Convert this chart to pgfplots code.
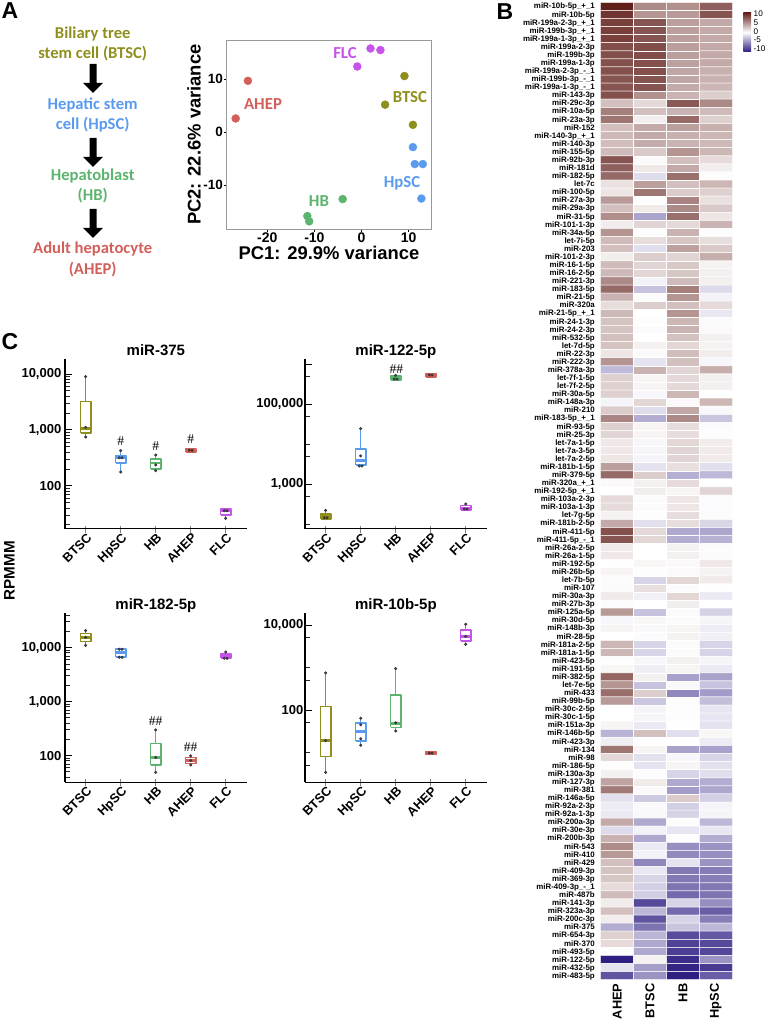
\documentclass[border=0pt]{standalone}
\usepackage{fontspec}
\setmainfont{Liberation Sans}
\newfontfamily\calb[BoldFont={Carlito Bold}]{Carlito}
\newfontfamily\tms{Liberation Serif}
\usepackage{pgfplots}
\pgfplotsset{compat=1.18}
\definecolor{cBT}{HTML}{8F8F1E}
\definecolor{cHp}{HTML}{5A9BEE}
\definecolor{cHB}{HTML}{5CB46E}
\definecolor{cAH}{HTML}{D2605A}
\definecolor{cFL}{HTML}{C654E8}
\newcommand{\fsz}[1]{\fontsize{#1}{#1}\selectfont}
% position, colour, low whisker, Q1, median, Q3, high whisker, dots
\newcommand{\mirbox}[8]{%
  \pgfmathsetmacro{\xa}{#1-0.145}\pgfmathsetmacro{\xb}{#1+0.145}%
  \addplot[solid,#2,line width=1.5pt,forget plot] coordinates {(#1,#3)(#1,#7)};
  \addplot[solid,draw=#2,fill=white,line width=1.7pt,line join=round,forget plot] coordinates {(\xa,#4)(\xb,#4)(\xb,#6)(\xa,#6)(\xa,#4)};
  \addplot[solid,#2,line width=2.8pt,forget plot] coordinates {(\xa,#5)(\xb,#5)};
  \addplot[only marks,mark=*,mark size=1.2pt,mark options={draw=black!80,fill=#2!60!black,line width=0.6pt},forget plot] coordinates {#8};
}
\pgfplotsset{
  boxax/.style={
    scale only axis,width=181.7pt,height=169.4pt,
    xmin=-0.59,xmax=4.6,
    axis lines=left,axis line style={-,line width=1.5pt},
    xtick={0,1,2,3,4},xticklabels={BTSC,HpSC,HB,AHEP,FLC},
    xtick align=outside,ytick align=inside,
    x tick style={black!50,line width=0.8pt,yshift=3pt},
    y tick style={black,line width=0.8pt},
    minor y tick style={black!85,line width=0.7pt},
    major tick length=7pt,minor tick length=5pt,
    xticklabel style={rotate=45,anchor=north east,font=\bfseries\fsz{12.8},inner sep=1pt,xshift=3.8pt,yshift=3.2pt},
    yticklabel style={font=\bfseries\fsz{13},inner sep=1pt,xshift=-2.5pt},
    title style={font=\bfseries\fsz{15},at={(axis description cs:0.5,0.988)},anchor=base},
    clip=false,
  },
}
\begin{document}
\begin{tikzpicture}[x=1pt,y=1pt]
\useasboundingbox (0,0) rectangle (765,1021);
% panel letters
\node[font=\bfseries\fsz{23},anchor=center] at (10,1010.5) {A};
\node[font=\bfseries\fsz{23},anchor=center] at (505,1009.5) {B};
\node[font=\bfseries\fsz{23},anchor=center] at (10,679) {C};
% lineage
\begin{scope}[every node/.style={font=\calb\bfseries\fsz{16.6},anchor=center,inner sep=0pt}]
\node[text=cBT] at (92.7,987) {Biliary tree};
\node[text=cBT] at (92.7,967) {stem cell (BTSC)};
\node[text=cHp] at (92.7,916.3) {Hepatic stem};
\node[text=cHp] at (92.7,896.7) {cell (HpSC)};
\node[text=cHB] at (92.7,845.3) {Hepatoblast};
\node[text=cHB] at (92.7,825.3) {(HB)};
\node[text=cAH] at (92.7,771.7) {Adult hepatocyte};
\node[text=cAH] at (92.7,751.7) {(AHEP)};
\end{scope}
\foreach \t in {64,138,209}{
  \fill[black] (89.5,1021-\t) -- (96.5,1021-\t) -- (96.5,1021-\t-19) -- (103,1021-\t-19) -- (93,1021-\t-29) -- (83,1021-\t-19) -- (89.5,1021-\t-19) -- cycle;
}
% PCA
\begin{axis}[at={(226.7pt,791.7pt)},anchor=south west,scale only axis,width=204.6pt,height=189.3pt,
  xmin=-28.6,xmax=14.8,ymin=-18.3,ymax=17.4,
  axis line style={draw=black!40,line width=0.9pt},
  xtick={-20,-10,0,10},xticklabels={-20,-10,0,10},
  ytick={-10,0,10},yticklabels={-10,0,10},
  xtick pos=bottom,ytick pos=left,tick align=outside,
  tick style={black,line width=0.6pt},major tick length=2.5pt,
  xticklabel style={font=\bfseries\fsz{14},inner sep=1pt},
  yticklabel style={font=\bfseries\fsz{13.5},inner sep=1pt},
  xlabel={PC1: 29.9\% variance},
  xlabel style={font=\bfseries\fsz{18.4},at={(axis description cs:0.5,-0.125)},anchor=center},
  ylabel={PC2: 22.6\% variance},
  ylabel style={font=\bfseries\fsz{18.4},at={(axis description cs:-0.16,0.5)},anchor=center},
  clip=false]
\addplot[only marks,mark=*,mark size=4pt,color=cFL] coordinates {(1.9,15.8)(4.0,15.5)(-0.9,12.4)};
\addplot[only marks,mark=*,mark size=4pt,color=cBT] coordinates {(9.1,10.6)(5.0,5.2)(10.9,1.4)};
\addplot[only marks,mark=*,mark size=4pt,color=cHp] coordinates {(10.9,-2.8)(11.3,-6.0)(13.0,-6.0)(12.7,-12.5)};
\addplot[only marks,mark=*,mark size=4pt,color=cHB] coordinates {(-4.0,-12.6)(-11.5,-15.8)(-11.1,-16.8)};
\addplot[only marks,mark=*,mark size=4pt,color=cAH] coordinates {(-24.1,9.7)(-26.7,2.6)};
\end{axis}
\begin{scope}[every node/.style={font=\calb\bfseries\fsz{16.8},anchor=center,inner sep=0pt}]
\node[text=cFL] at (345,968) {FLC};
\node[text=cBT] at (410,924) {BTSC};
\node[text=cAH] at (263,917) {AHEP};
\node[text=cHp] at (402,838) {HpSC};
\node[text=cHB] at (319,820) {HB};
\end{scope}
% miR-375
\begin{semilogyaxis}[boxax,at={(65pt,492.3pt)},anchor=south west,ymin=17,ymax=18300,
  ytick={100,1000,10000},yticklabels={100,{1,000},{10,000}},
  minor ytick={20,30,40,50,60,70,80,90,200,300,400,500,600,700,800,900,2000,3000,4000,5000,6000,7000,8000,9000},
  title={miR-375}]
\mirbox{0}{cBT}{745}{890}{1050}{3195}{8960}{(0,8960)(0,1108)(0,745)}
\mirbox{1}{cHp}{176}{258}{316}{349}{424}{(1,424)(0.96,316)(1.04,316)(1,176)}
\mirbox{2}{cHB}{186}{201}{255}{297}{354}{(2,354)(2,235)(2,186)}
\mirbox{3}{cAH}{401}{401}{430}{460}{460}{(2.96,430)(3.04,430)}
\mirbox{4}{cFL}{26}{30}{35.6}{38.7}{38.7}{(3.96,35.6)(4.04,35.6)(4,26)}
\end{semilogyaxis}
% miR-122
\begin{semilogyaxis}[boxax,at={(305pt,492.3pt)},anchor=south west,ymin=76,ymax=1330000,
  yticklabel style={xshift=2pt},
  ytick={1000,100000,1000000},yticklabels={{1,000},{100,000},{}},
  minor ytick={100,500,5000,10000,50000,500000},
  title={miR-122-5p}]
\mirbox{0}{cBT}{132}{132}{154}{180}{218}{(0,218)(-0.04,143)(0.04,143)}
\mirbox{1}{cHp}{2830}{2950}{3930}{7570}{24500}{(1,24500)(1,5050)(0.96,2830)(1.04,2830)}
\mirbox{2}{cHB}{400000}{400000}{457000}{514000}{525000}{(2,525000)(1.96,425000)(2.04,425000)}
\mirbox{3}{cAH}{485000}{485000}{535000}{589000}{589000}{(2.96,535000)(3.04,535000)}
\mirbox{4}{cFL}{222}{222}{250}{291}{315}{(4,315)(3.96,236)(4.04,236)}
\end{semilogyaxis}
% miR-182
\begin{semilogyaxis}[boxax,at={(65pt,238.7pt)},anchor=south west,height=169pt,ymin=32,ymax=43200,
  ytick={100,1000,10000},yticklabels={100,{1,000},{10,000}},
  minor ytick={40,50,60,70,80,90,200,300,400,500,600,700,800,900,2000,3000,4000,5000,6000,7000,8000,9000,20000,30000,40000},
  title={miR-182-5p}]
\mirbox{0}{cBT}{11000}{12900}{15500}{18200}{20700}{(0,20700)(0,15500)(0,11000)}
\mirbox{1}{cHp}{6610}{6720}{8070}{9320}{9320}{(0.96,9320)(1.04,9320)(0.96,6610)(1.04,6610)}
\mirbox{2}{cHB}{49}{66}{92}{167}{299}{(2,299)(2,92)(2,49)}
\mirbox{3}{cAH}{67}{71}{81}{92}{99}{(3,99)(3,81)(3,67)}
\mirbox{4}{cFL}{6340}{6340}{6810}{7530}{8300}{(4,8300)(3.96,6340)(4.04,6340)}
\end{semilogyaxis}
% miR-10b
\begin{semilogyaxis}[boxax,at={(305pt,238.7pt)},anchor=south west,height=169pt,ymin=1.99,ymax=18800,
  yticklabel style={xshift=2pt},
  ytick={100,10000},yticklabels={100,{10,000}},
  minor ytick={5,10,50,500,1000,5000},
  title={miR-10b-5p}]
\mirbox{0}{cBT}{3.4}{8}{19}{120}{743}{(0,743)(0,19)(0,3.4)}
\mirbox{1}{cHp}{14.8}{18.3}{31}{50}{64}{(1,64)(1,45)(1,21)(1,14.8)}
\mirbox{2}{cHB}{32}{39}{48.5}{221}{940}{(2,940)(2,50)(2,32)}
\mirbox{3}{cAH}{8.9}{8.9}{9.7}{10.5}{10.5}{(2.96,9.7)(3.04,9.7)}
\mirbox{4}{cFL}{3500}{4200}{5400}{7620}{10400}{(4,10400)(4,5400)(4,3500)}
\end{semilogyaxis}
% hash marks
\begin{scope}[every node/.style={font=\tms\fsz{13.5},anchor=center,inner sep=0pt}]
\node at (120.7,579.7) {\#};
\node at (155.7,575) {\#};
\node at (190.7,581.7) {\#};
\node at (396.3,651.7) {\#\#};
\node at (155.7,300.3) {\#\#};
\node at (190.7,274) {\#\#};
\end{scope}
\node[font=\bfseries\fsz{15.2},rotate=90,anchor=center] at (9.5,450.4) {RPMMM};
% heatmap
\begin{axis}[at={(600.7pt,41.3pt)},anchor=south west,scale only axis,width=131.6pt,height=977.4pt,
  xmin=-0.5,xmax=3.5,ymin=-0.5,ymax=120.5,y dir=reverse,enlargelimits=false,
  axis line style={draw=none},tick style={draw=none},
  xtick={0,1,2,3},xticklabels={AHEP,BTSC,HB,HpSC},
  xticklabel style={rotate=90,anchor=east,font=\bfseries\fsz{12.8},inner sep=0pt,xshift=-3.6pt,yshift=0pt},
  ytick={0,...,120},
  yticklabels={miR-10b-5p\_+\_1,miR-10b-5p,miR-199a-2-3p\_+\_1,miR-199b-3p\_+\_1,miR-199a-1-3p\_+\_1,miR-199a-2-3p,miR-199b-3p,miR-199a-1-3p,miR-199a-2-3p\_-\_1,miR-199b-3p\_-\_1,miR-199a-1-3p\_-\_1,miR-143-3p,miR-29c-3p,miR-10a-5p,miR-23a-3p,miR-152,miR-140-3p\_+\_1,miR-140-3p,miR-155-5p,miR-92b-3p,miR-181d,miR-182-5p,let-7c,miR-100-5p,miR-27a-3p,miR-29a-3p,miR-31-5p,miR-101-1-3p,miR-34a-5p,let-7i-5p,miR-203,miR-101-2-3p,miR-16-1-5p,miR-16-2-5p,miR-221-3p,miR-183-5p,miR-21-5p,miR-320a,miR-21-5p\_+\_1,miR-24-1-3p,miR-24-2-3p,miR-532-5p,let-7d-5p,miR-22-3p,miR-222-3p,miR-378a-3p,let-7f-1-5p,let-7f-2-5p,miR-30a-5p,miR-148a-3p,miR-210,miR-183-5p\_+\_1,miR-93-5p,miR-25-3p,let-7a-1-5p,let-7a-3-5p,let-7a-2-5p,miR-181b-1-5p,miR-379-5p,miR-320a\_+\_1,miR-192-5p\_+\_1,miR-103a-2-3p,miR-103a-1-3p,let-7g-5p,miR-181b-2-5p,miR-411-5p,miR-411-5p\_-\_1,miR-26a-2-5p,miR-26a-1-5p,miR-192-5p,miR-26b-5p,let-7b-5p,miR-107,miR-30a-3p,miR-27b-3p,miR-125a-5p,miR-30d-5p,miR-148b-3p,miR-28-5p,miR-181a-2-5p,miR-181a-1-5p,miR-423-5p,miR-191-5p,miR-382-5p,let-7e-5p,miR-433,miR-99b-5p,miR-30c-2-5p,miR-30c-1-5p,miR-151a-3p,miR-146b-5p,miR-423-3p,miR-134,miR-98,miR-186-5p,miR-130a-3p,miR-127-3p,miR-381,miR-146a-5p,miR-92a-2-3p,miR-92a-1-3p,miR-200a-3p,miR-30e-3p,miR-200b-3p,miR-543,miR-410,miR-429,miR-409-3p,miR-369-3p,miR-409-3p\_-\_1,miR-487b,miR-141-3p,miR-323a-3p,miR-200c-3p,miR-375,miR-654-3p,miR-370,miR-493-5p,miR-122-5p,miR-432-5p,miR-483-5p},
  yticklabel style={anchor=mid east,font=\bfseries\fsz{7.9},inner sep=0pt,xshift=-5.7pt},
  colormap={hm}{rgb255=(45,30,130) rgb255=(255,255,255) rgb255=(97,31,26)},
  point meta min=-10.5,point meta max=10.5]
\addplot[matrix plot,draw=white,line width=0.5pt,mesh/cols=4,point meta=explicit]
 table[row sep=\\,header=false,x expr={mod(\coordindex,4)},y expr={floor((\coordindex+0.5)/4)},meta index=0]{
10.5\\5.5\\5.2\\7.5\\
9.5\\5\\4.7\\8\\
9\\8\\4.5\\4\\
9\\8\\4.5\\4\\
9\\8\\4.5\\4\\
8.3\\8.3\\4.5\\4\\
8.3\\8.3\\4.5\\4\\
8.2\\8.2\\4.4\\4\\
8.2\\8.2\\4.2\\3.7\\
8\\8\\4.2\\3.6\\
8\\8\\4\\3.4\\
8.2\\5.2\\3.5\\2.3\\
3\\1.8\\7.8\\5.5\\
6\\3\\3.5\\3.2\\
6.5\\0.8\\7\\2.2\\
3\\4\\4.5\\3.7\\
3.3\\4\\3.7\\3.4\\
3.1\\3.9\\3.5\\3.3\\
3.2\\2.5\\5\\3.4\\
8\\0.3\\3\\1.7\\
7.5\\1.1\\4\\0.8\\
7\\-1.6\\6.7\\0.1\\
1.4\\4.5\\3\\3.4\\
1.2\\6.5\\2.4\\2.2\\
4.7\\0.1\\5.8\\1.5\\
3\\1\\5.5\\2.5\\
5.3\\-4.2\\6.7\\1.2\\
0.9\\2\\1.8\\3.5\\
5\\0.1\\3.6\\-0.1\\
3.2\\1.6\\2.7\\1.6\\
3\\-1.5\\4.4\\2.5\\
0.8\\2.3\\2\\3.8\\
3.2\\2\\2.6\\0.6\\
3.3\\1.9\\2.7\\0.7\\
5.5\\-0.6\\3.2\\0.7\\
7\\-2.8\\6\\-1.7\\
3.6\\0.2\\5\\-0.6\\
1.6\\2.3\\3\\1.7\\
3.3\\0\\5\\-1.1\\
2.8\\-0.1\\3.4\\0.2\\
2.8\\-0.2\\3.5\\0.3\\
3\\0\\2.9\\0.7\\
2.8\\0.7\\1.9\\0.6\\
1.2\\0.3\\3.1\\0.9\\
5\\-1.3\\3\\-0.4\\
-3.2\\3.6\\2\\3.8\\
2.2\\0.5\\1.8\\0.7\\
2.2\\0.5\\1.8\\0.7\\
2.2\\-0.4\\3.4\\0\\
-0.5\\1.9\\0.3\\3.4\\
2.4\\-1.6\\4.1\\-0.3\\
5.7\\-3.8\\5.5\\-2.7\\
2.2\\0.5\\1.6\\-0.2\\
2\\0.5\\1.6\\-0.1\\
1.1\\-0.4\\1.9\\0.9\\
1.1\\-0.5\\2\\1\\
1.2\\-0.5\\2\\1\\
4.5\\-1.3\\1.5\\-1.5\\
7\\2.3\\-3.7\\-3.3\\
0.3\\0.7\\1.7\\0\\
0\\0.8\\0.5\\2\\
1.7\\0.2\\1.2\\-0.2\\
1.7\\0.2\\1.2\\-0.2\\
0.6\\0.1\\1.6\\0.2\\
4\\-1.5\\1.6\\-1.9\\
8.2\\1.8\\-4\\-4.1\\
8\\1.9\\-3.8\\-3.6\\
1\\0\\0.6\\0.2\\
1.1\\0\\0.7\\0.2\\
0\\0.4\\0.3\\1.1\\
0.5\\0.1\\0.3\\0.6\\
0.2\\-2\\1.9\\1\\
0.2\\1.5\\-0.2\\0\\
1\\-0.7\\1.9\\-1\\
-0.2\\0\\0.8\\0\\
4.8\\-2.8\\0.2\\-2.1\\
-0.4\\0.4\\0.2\\-0.5\\
0.5\\-0.3\\0.5\\-0.9\\
0\\-0.2\\0.6\\-0.7\\
3.4\\-2\\0.2\\-2\\
3.4\\-2\\0.2\\-2\\
-0.1\\-0.4\\0.7\\-0.5\\
0.4\\-0.8\\0.5\\-1\\
7.2\\0.7\\-4.4\\-4.3\\
5\\-2.8\\-0.3\\-2.8\\
6.8\\2.3\\-5.5\\-4.6\\
4.7\\-2.6\\0.1\\-3\\
0\\-0.5\\0.1\\-1.2\\
0\\-0.5\\0.1\\-1.2\\
0.5\\-1\\0\\-1.3\\
-3.5\\3\\-1.5\\0.4\\
-0.8\\-0.1\\0\\-0.9\\
6.5\\0.5\\-4.3\\-4.4\\
1.8\\-1.4\\-0.4\\-2\\
-0.1\\-1.3\\0.5\\-1.4\\
0.7\\-0.1\\-2\\-1.5\\
4.3\\1\\-4\\-3.8\\
6.2\\0.3\\-4.6\\-4.1\\
-1.4\\-2.5\\2.4\\-2.2\\
-0.9\\-0.3\\-2.2\\-0.5\\
-1\\-0.3\\-2.1\\-0.5\\
4\\-4\\-0.1\\-3.3\\
-1.7\\-0.6\\-1.2\\-1.1\\
3.6\\-4\\-0.1\\-3.8\\
5.4\\-1\\-5.2\\-5\\
4.8\\-0.6\\-5.5\\-5.2\\
3\\-5.6\\-1.3\\-5\\
2.8\\-1.1\\-6.3\\-6.1\\
2.7\\-2\\-6.3\\-6\\
1.7\\-2.2\\-6.5\\-6.3\\
3.2\\-2.3\\-7\\-6.5\\
0.9\\-8.5\\-2\\-5.2\\
3\\-3.3\\-7\\-7.5\\
0.9\\-8\\-2\\-6\\
-3.8\\-6.5\\-2.7\\-3.3\\
2.2\\-3.4\\-8.4\\-7.8\\
1.7\\-4\\-8.8\\-8.5\\
-0.1\\-4\\-9\\-8.6\\
-10.5\\0.6\\-9.8\\-5\\
-1.3\\-4.5\\-10.2\\-9.2\\
-8\\-5\\-10.5\\-7.5\\
};
\end{axis}
% colour key
\definecolor{kT}{RGB}{97,31,26}\definecolor{kB}{RGB}{45,30,130}
\shade[top color=kT,bottom color=kB,middle color=white] (743.3,969.3) rectangle (751,1008.3);
\begin{scope}[every node/.style={font=\fsz{8.2},anchor=west,inner sep=0pt}]
\node at (753.5,1007) {10};
\node at (753.5,998.3) {5};
\node at (753.5,989.7) {0};
\node at (753.5,981) {-5};
\node at (753.5,972) {-10};
\end{scope}
\end{tikzpicture}
\end{document}
